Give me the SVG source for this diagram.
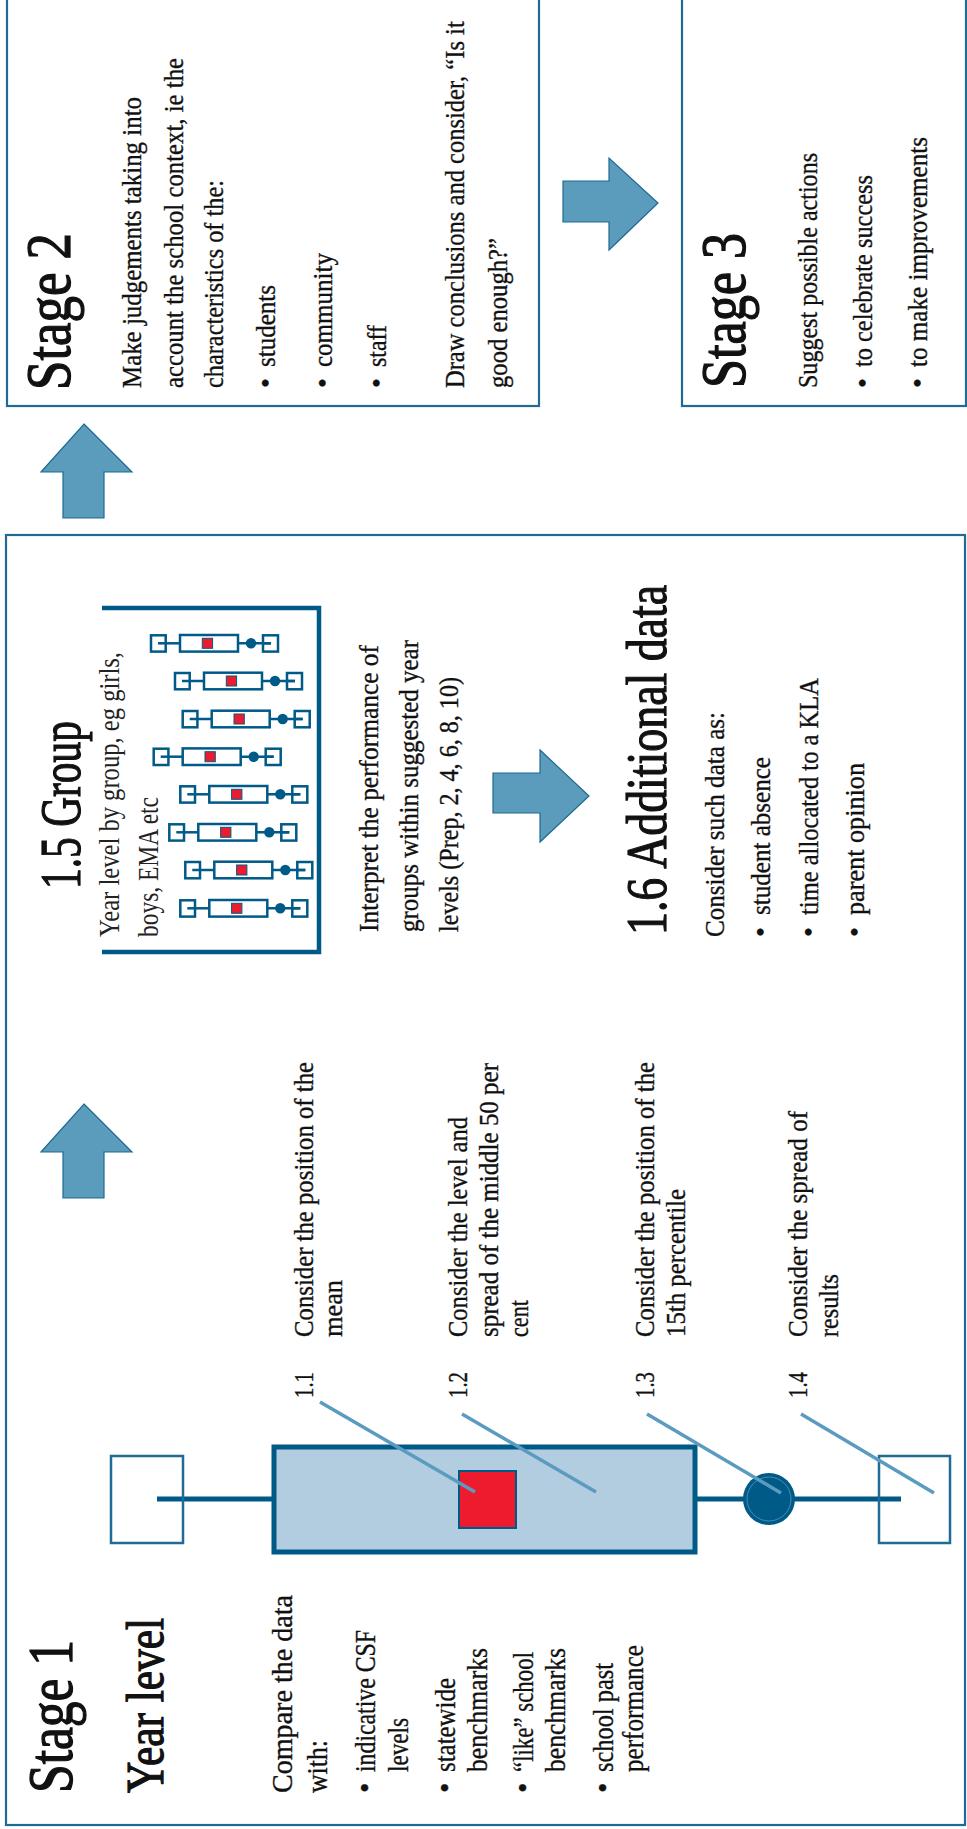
<svg xmlns="http://www.w3.org/2000/svg" width="967" height="1829" viewBox="0 0 967 1829">
<style>
.frame{fill:none;stroke:#1f6b96;stroke-width:2.2}
.t{font-family:"Liberation Serif",serif;fill:#111;stroke:#111;stroke-width:0.35}
.h1{font-size:64px;stroke-width:1.3}
.h2{font-size:52px;stroke-width:1.2}
.h3{font-size:58px;stroke-width:1.2}
.b30{font-size:30px}
.b28{font-size:28px}
.lt{font-family:"Liberation Serif",serif;fill:#222;font-size:30px}
.arrow{fill:#5b9bbb;stroke:#1d6a93;stroke-width:1.2}
.lead{stroke:#5b9bc0;stroke-width:3.5;fill:none}
.bx{fill:none;stroke:#005a87;stroke-width:2.5}
.wh{stroke:#005a87;stroke-width:2.5}
</style>
<defs>
<g id="mini">
<line class="wh" x1="8" y1="0" x2="30" y2="0"/>
<line class="wh" x1="88" y1="0" x2="121" y2="0"/>
<rect class="bx" x="1" y="-8" width="14.7" height="16.3" fill="#fff"/>
<rect class="bx" x="30" y="-8.3" width="58" height="16.6"/>
<rect x="52.3" y="-5" width="10.3" height="10" fill="#ec1c2e" stroke="#005a87" stroke-width="1"/>
<circle cx="101" cy="0" r="5.2" fill="#005a87"/>
<rect class="bx" x="113" y="-8" width="15" height="16.3"/>
<line class="wh" x1="113" y1="0" x2="121" y2="0"/>
</g>
</defs>
<rect width="967" height="1829" fill="#fff"/>

<g id="stage1">
<rect class="frame" x="6" y="535" width="959" height="1290"/>
<g transform="matrix(0,-1,1,0,0,1829)">
<text class="t h1" x="36" y="72" textLength="153" lengthAdjust="spacingAndGlyphs">Stage 1</text>
<text class="t h2" x="36" y="163" textLength="175" lengthAdjust="spacingAndGlyphs">Year level</text>
<text class="t b30" x="36" y="292" textLength="198" lengthAdjust="spacingAndGlyphs">Compare the data</text>
<text class="t b30" x="36" y="327" textLength="53" lengthAdjust="spacingAndGlyphs">with:</text>
<text class="t b30" x="36" y="375">•</text>
<text class="t b30" x="57" y="375" textLength="142" lengthAdjust="spacingAndGlyphs">indicative CSF</text>
<text class="t b30" x="57" y="408" textLength="54" lengthAdjust="spacingAndGlyphs">levels</text>
<text class="t b30" x="36" y="455">•</text>
<text class="t b30" x="57" y="455" textLength="94" lengthAdjust="spacingAndGlyphs">statewide</text>
<text class="t b30" x="57" y="487" textLength="124" lengthAdjust="spacingAndGlyphs">benchmarks</text>
<text class="t b30" x="36" y="533">•</text>
<text class="t b30" x="57" y="533" textLength="120" lengthAdjust="spacingAndGlyphs">“like” school</text>
<text class="t b30" x="57" y="565" textLength="124" lengthAdjust="spacingAndGlyphs">benchmarks</text>
<text class="t b30" x="36" y="613">•</text>
<text class="t b30" x="57" y="613" textLength="109" lengthAdjust="spacingAndGlyphs">school past</text>
<text class="t b30" x="57" y="643" textLength="127" lengthAdjust="spacingAndGlyphs">performance</text>
</g>
</g>

<g id="boxplot">
<line x1="157" y1="1499" x2="272" y2="1499" stroke="#005a87" stroke-width="5"/>
<line x1="696" y1="1499" x2="901" y2="1499" stroke="#005a87" stroke-width="5"/>
<rect x="111" y="1456" width="72" height="87" fill="none" stroke="#1f6b96" stroke-width="2.5"/>
<rect x="879" y="1456" width="71" height="87" fill="none" stroke="#1f6b96" stroke-width="2.5"/>
<rect x="274" y="1447" width="421" height="105" fill="#b3cde0" stroke="#005a87" stroke-width="5"/>
<rect x="459" y="1471" width="57" height="57" fill="#ec1c2e" stroke="#005a87" stroke-width="2"/>
<circle cx="769" cy="1499" r="26" fill="#005a87"/>
<circle cx="769" cy="1499" r="22" fill="none" stroke="#4a8ab2" stroke-width="1"/>
<line class="lead" x1="320" y1="1402" x2="475" y2="1492"/>
<line class="lead" x1="462" y1="1414" x2="596" y2="1492"/>
<line class="lead" x1="647" y1="1414" x2="781" y2="1493"/>
<line class="lead" x1="801" y1="1414" x2="934" y2="1493"/>
</g>

<g id="labels">
<g transform="matrix(0,-1,1,0,0,1829)">
<text class="t b28" x="431" y="313" textLength="26" lengthAdjust="spacingAndGlyphs">1.1</text>
<text class="t b28" x="492" y="313" textLength="275" lengthAdjust="spacingAndGlyphs">Consider the position of the</text>
<text class="t b28" x="492" y="342" textLength="57" lengthAdjust="spacingAndGlyphs">mean</text>
<text class="t b28" x="431" y="467" textLength="26" lengthAdjust="spacingAndGlyphs">1.2</text>
<text class="t b28" x="492" y="467" textLength="220" lengthAdjust="spacingAndGlyphs">Consider the level and</text>
<text class="t b28" x="492" y="498" textLength="274" lengthAdjust="spacingAndGlyphs">spread of the middle 50 per</text>
<text class="t b28" x="492" y="528" textLength="37" lengthAdjust="spacingAndGlyphs">cent</text>
<text class="t b28" x="431" y="654" textLength="26" lengthAdjust="spacingAndGlyphs">1.3</text>
<text class="t b28" x="492" y="654" textLength="275" lengthAdjust="spacingAndGlyphs">Consider the position of the</text>
<text class="t b28" x="492" y="685" textLength="148" lengthAdjust="spacingAndGlyphs">15th percentile</text>
<text class="t b28" x="431" y="807" textLength="26" lengthAdjust="spacingAndGlyphs">1.4</text>
<text class="t b28" x="492" y="807" textLength="226" lengthAdjust="spacingAndGlyphs">Consider the spread of</text>
<text class="t b28" x="492" y="838" textLength="63" lengthAdjust="spacingAndGlyphs">results</text>
</g>
</g>

<g id="group15">
<path d="M102,608 H319 V952 H102" fill="none" stroke="#005a87" stroke-width="4.5"/>
<use href="#mini" x="150" y="643.3"/>
<use href="#mini" x="174" y="681"/>
<use href="#mini" x="181.7" y="719"/>
<use href="#mini" x="152.7" y="756.7"/>
<use href="#mini" x="179.3" y="794.3"/>
<use href="#mini" x="168.3" y="832.3"/>
<use href="#mini" x="184.3" y="870"/>
<use href="#mini" x="179.3" y="908.3"/>
<g transform="matrix(0,-1,1,0,0,1829)">
<text class="t h3" x="940" y="80" textLength="168" lengthAdjust="spacingAndGlyphs">1.5 Group</text>
<text class="lt" x="892" y="119" textLength="285" lengthAdjust="spacingAndGlyphs">Year level by group, eg girls,</text>
<text class="lt" x="892" y="158" textLength="140" lengthAdjust="spacingAndGlyphs">boys, EMA etc</text>
<text class="t b28" x="897" y="378" textLength="287" lengthAdjust="spacingAndGlyphs">Interpret the performance of</text>
<text class="t b28" x="897" y="418" textLength="292" lengthAdjust="spacingAndGlyphs">groups within suggested year</text>
<text class="t b28" x="897" y="458" textLength="255" lengthAdjust="spacingAndGlyphs">levels (Prep, 2, 4, 6, 8, 10)</text>
</g>
</g>

<g id="additional16">
<g transform="matrix(0,-1,1,0,0,1829)">
<text class="t h3" x="894" y="666" textLength="350" lengthAdjust="spacingAndGlyphs">1.6 Additional data</text>
<text class="t b28" x="892" y="724" textLength="225" lengthAdjust="spacingAndGlyphs">Consider such data as:</text>
<text class="t b28" x="892" y="770">•</text>
<text class="t b28" x="914" y="770" textLength="158" lengthAdjust="spacingAndGlyphs">student absence</text>
<text class="t b28" x="892" y="818">•</text>
<text class="t b28" x="914" y="818" textLength="237" lengthAdjust="spacingAndGlyphs">time allocated to a KLA</text>
<text class="t b28" x="892" y="864">•</text>
<text class="t b28" x="914" y="864" textLength="152" lengthAdjust="spacingAndGlyphs">parent opinion</text>
</g>
</g>

<g id="stage2">
<rect class="frame" x="7" y="-10" width="532" height="416"/>
<g transform="matrix(0,-1,1,0,0,1829)">
<text class="t h1" x="1439" y="70" font-size="62" textLength="157" lengthAdjust="spacingAndGlyphs">Stage 2</text>
<text class="t b28" x="1441" y="141" textLength="291" lengthAdjust="spacingAndGlyphs">Make judgements taking into</text>
<text class="t b28" x="1441" y="183" textLength="330" lengthAdjust="spacingAndGlyphs">account the school context, ie the</text>
<text class="t b28" x="1441" y="223" textLength="208" lengthAdjust="spacingAndGlyphs">characteristics of the:</text>
<text class="t b28" x="1441" y="275">•</text>
<text class="t b28" x="1462" y="275" textLength="82" lengthAdjust="spacingAndGlyphs">students</text>
<text class="t b28" x="1441" y="332">•</text>
<text class="t b28" x="1462" y="332" textLength="114" lengthAdjust="spacingAndGlyphs">community</text>
<text class="t b28" x="1441" y="386">•</text>
<text class="t b28" x="1462" y="386" textLength="42" lengthAdjust="spacingAndGlyphs">staff</text>
<text class="t b28" transform="translate(1441,464) scale(0.876,1)" x="0" y="0">Draw conclusions and consider, “Is it</text>
<text class="t b28" x="1441" y="507" textLength="150" lengthAdjust="spacingAndGlyphs">good enough?”</text>
</g>
</g>

<g id="stage3">
<rect class="frame" x="682" y="-10" width="284" height="416"/>
<g transform="matrix(0,-1,1,0,0,1829)">
<text class="t h1" x="1441" y="745" font-size="62" textLength="155" lengthAdjust="spacingAndGlyphs">Stage 3</text>
<text class="t b28" x="1441" y="817" textLength="235" lengthAdjust="spacingAndGlyphs">Suggest possible actions</text>
<text class="t b28" x="1441" y="872">•</text>
<text class="t b28" x="1462" y="872" textLength="192" lengthAdjust="spacingAndGlyphs">to celebrate success</text>
<text class="t b28" x="1441" y="927">•</text>
<text class="t b28" x="1462" y="927" textLength="230" lengthAdjust="spacingAndGlyphs">to make improvements</text>
</g>
</g>

<g id="connectors">
<polygon class="arrow" points="84,424 132,472 104,472 104,518 63,518 63,472 41,472"/>
<polygon class="arrow" points="84,1104 132,1152 104,1152 104,1198 63,1198 63,1152 41,1152"/>
<polygon class="arrow" points="563,181 609,181 609,158 658,203 609,250 609,222 563,222"/>
<polygon class="arrow" points="493,773 540,773 540,750 589,796 540,842 540,813 493,813"/>
</g>
</svg>
